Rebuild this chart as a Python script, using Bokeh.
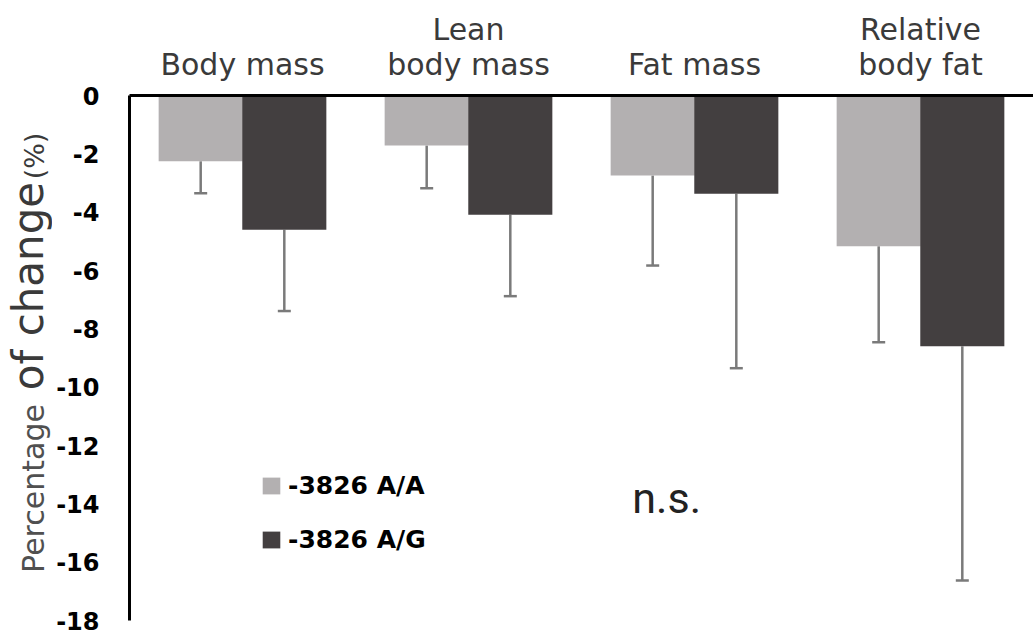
from bokeh.plotting import figure
from bokeh.models import (ColumnDataSource, Range1d, FixedTicker, Legend, LegendItem,
                          Label, LinearAxis)
from bokeh.layouts import row
from bokeh.core.properties import value
from bokeh.embed import file_html
from bokeh.resources import INLINE
import math

# ---- data ----
categories = ["Body mass", "Lean body mass", "Fat mass", "Relative body fat"]
label_line1 = [" ", "Lean", " ", "Relative"]
label_line2 = ["Body mass", "body mass", "Fat mass", "body fat"]
aa_mean = [-2.25, -1.71, -2.74, -5.17]
aa_sd = [1.10, 1.47, 3.09, 3.29]
ag_mean = [-4.60, -4.09, -3.37, -8.60]
ag_sd = [2.79, 2.79, 5.98, 8.03]
series_names = ["-3826 A/A", "-3826 A/G"]
y_ticks = [0, -2, -4, -6, -8, -10, -12, -14, -16, -18]
ytitle_parts = ["Percentage", "of change", "(%)"]

LIGHT = "#b3b0b1"
DARK = "#433f40"
ERR = "#7a7a7a"

centers = [i + 0.5 for i in range(len(categories))]
off = 0.185
bw = 0.372

src = ColumnDataSource(dict(
    cat=categories,
    x_aa=[c - off for c in centers],
    x_ag=[c + off for c in centers],
    aa=aa_mean,
    aa_low=[m - s for m, s in zip(aa_mean, aa_sd)],
    ag=ag_mean,
    ag_low=[m - s for m, s in zip(ag_mean, ag_sd)],
    zero=[0] * len(categories),
))

LEFT_W = 52
p = figure(width=1033 - LEFT_W, height=631, x_range=Range1d(0, len(categories)),
           y_range=Range1d(-18, 0), x_axis_location="above",
           output_backend="svg", toolbar_location=None,
           min_border_left=129 - LEFT_W, min_border_right=0, min_border_top=95,
           min_border_bottom=11)
p.outline_line_color = None
p.xgrid.visible = False
p.ygrid.visible = False

# error bars (downward only)
for xname, name, lowname in (("x_aa", "aa", "aa_low"), ("x_ag", "ag", "ag_low")):
    p.segment(x0=xname, y0=name, x1=xname, y1=lowname,
              source=src, line_color=ERR, line_width=2.5)
    p.scatter(x=xname, y=lowname, marker="dash", size=13,
              line_color=ERR, line_width=2.5, source=src)

r_aa = p.vbar(x="x_aa", top="zero", bottom="aa", width=bw,
              source=src, fill_color=LIGHT, line_color=None)
r_ag = p.vbar(x="x_ag", top="zero", bottom="ag", width=bw,
              source=src, fill_color=DARK, line_color=None)


def style_cat_axis(ax, lines, standoff):
    ax.ticker = FixedTicker(ticks=centers)
    ax.major_label_overrides = dict(zip(centers, lines))
    ax.major_label_text_font = "DejaVu Sans"
    ax.major_label_text_font_size = "30px"
    ax.major_label_text_color = "#3a3a3a"
    ax.major_label_standoff = standoff
    ax.major_tick_in = 0
    ax.major_tick_out = 0
    ax.minor_tick_line_color = None


# inner axis: second line of each category name
xa = p.xaxis[0]
style_cat_axis(xa, label_line2, 14)
xa.axis_line_width = 3
xa.axis_line_color = "black"

# outer axis: first line of the two-line names
xa2 = LinearAxis()
style_cat_axis(xa2, label_line1, -3)
xa2.axis_line_color = None
xa2.major_tick_line_color = None
p.add_layout(xa2, "above")

ya = p.yaxis[0]
ya.ticker = FixedTicker(ticks=y_ticks)
ya.major_label_overrides = {t: str(t) for t in y_ticks}
ya.minor_tick_line_color = None
ya.major_tick_in = 0
ya.major_tick_out = 0
ya.major_label_standoff = 30
ya.major_label_text_font = "DejaVu Sans"
ya.major_label_text_font_style = "bold"
ya.major_label_text_font_size = "24px"
ya.major_label_text_color = "black"
ya.axis_line_width = 3
ya.axis_line_color = "black"

# n.s. annotation
p.add_layout(Label(x=2.225, y=-13.79, text="n.s.", text_align="left",
                   text_baseline="alphabetic", text_font="Roboto",
                   text_font_size="43px", text_color="#222222"))

legend = Legend(items=[LegendItem(label=series_names[0], renderers=[r_aa]),
                       LegendItem(label=series_names[1], renderers=[r_ag])],
                location=(131, 66), glyph_width=22, glyph_height=21,
                label_text_font="DejaVu Sans", label_text_font_style="bold",
                label_text_font_size="25px", label_text_color="black",
                label_standoff=6, spacing=25, padding=0, margin=0,
                border_line_color=None, background_fill_alpha=0)
p.add_layout(legend, "center")

# y-axis title (mixed sizes) drawn in a narrow strip to the left; its frame is
# aligned with the main plot's frame (page y 95..620), so use page-pixel coordinates
t = figure(width=LEFT_W, height=631, x_range=Range1d(0, LEFT_W), y_range=Range1d(620, 95),
           x_axis_location=None, y_axis_location=None,
           output_backend="svg", toolbar_location=None,
           min_border_left=0, min_border_right=0, min_border_top=95, min_border_bottom=11)
t.outline_line_color = None
t.xgrid.visible = False
t.ygrid.visible = False
tsrc = ColumnDataSource(dict(
    x=[32.6, 27.6, 33.7],
    y=[488, 285.5, 155.5],
    text=ytitle_parts,
    size=["30px", "42px", "27px"],
    color=["#505050", "#3a3a3a", "#3a3a3a"],
))
t.text(x="x", y="y", text="text", source=tsrc, angle=math.pi / 2,
       text_align="center", text_baseline="middle",
       text_font=value("DejaVu Sans"), text_font_size="size", text_color="color")

layout = row(t, p, spacing=0)
open("out.html", "w").write(file_html(layout, INLINE))
